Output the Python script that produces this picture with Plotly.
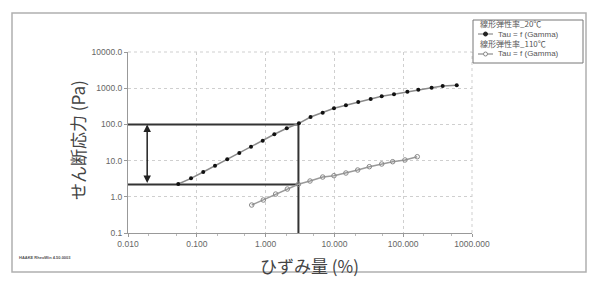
import numpy as np
import plotly.graph_objects as go

# ---- data ----
strain_20 = [0.0538, 0.0824, 0.124, 0.184, 0.277, 0.415, 0.614, 0.908, 1.34, 2.03, 3.05,
             4.50, 6.76, 9.86, 14.7, 22.2, 33.7, 48.7, 73.5, 115, 166, 259, 375, 600]
stress_20 = [2.26, 3.24, 4.84, 7.23, 10.9, 16.2, 24.2, 35.5, 53.3, 78.0, 107,
             160, 210, 279, 337, 416, 503, 598, 678, 800, 909, 1032, 1150, 1202]
strain_110 = [0.628, 0.927, 1.40, 2.07, 2.99, 4.42, 6.76, 9.86, 14.7, 21.8, 32.2, 48.7, 70.3, 106, 160]
stress_110 = [0.593, 0.816, 1.19, 1.64, 2.21, 2.73, 3.52, 3.83, 4.54, 5.50, 6.79, 8.06, 9.33, 10.4, 12.8]

# guide box (linear region marker)
box_x = [0.01, 3.0, None, 0.01, 3.0, None, 3.0, 3.0]
box_y = [100, 100, None, 2.2, 2.2, None, 100, 0.1]
arrow_x = 0.019
arrow_y = [2.2, 100]

x_tickvals = [0.01, 0.1, 1, 10, 100, 1000]
x_ticktext = ["0.010", "0.100", "1.000", "10.000", "100.000", "1000.000"]
y_tickvals = [0.1, 1, 10, 100, 1000, 10000]
y_ticktext = ["0.1", "1.0", "10.0", "100.0", "1000.0", "10000.0"]

legend_titles = ["線形弾性率_20℃", "線形弾性率_110℃"]
legend_names = ["Tau = f (Gamma)", "Tau = f (Gamma)"]

x_title = "ひずみ量 (%)"
y_title = "せん断応力 (Pa)"
footer = "HAAKE RheoWin 4.50.0003"

# ---- layout geometry (pixels) ----
W, H = 606, 288
L, R, T, B = 128, 472, 52, 233


def px(x):
    return (x - L) / (R - L)


def py(y):
    return (B - y) / (B - T)


fig = go.Figure()

fig.add_trace(go.Scatter(
    x=box_x, y=box_y, mode="lines",
    line=dict(color="#333333", width=2), showlegend=False, hoverinfo="skip"))

fig.add_trace(go.Scatter(
    x=strain_20, y=stress_20, mode="lines+markers",
    line=dict(color="#8a8a8a", width=1.5),
    marker=dict(symbol="circle", size=4, color="#111111"),
    showlegend=False))

fig.add_trace(go.Scatter(
    x=strain_110, y=stress_110, mode="lines+markers",
    line=dict(color="#9a9a9a", width=1.5),
    marker=dict(symbol="circle-open", size=4.5, color="#888888", line=dict(width=1)),
    showlegend=False))

tickfont = dict(family="Liberation Sans Narrow, Liberation Sans, Arial", size=8.5, color="#666666")

fig.update_xaxes(type="log", range=[-2, 3], tickvals=x_tickvals, ticktext=x_ticktext,
                 showgrid=True, gridcolor="#cfcfcf", griddash="dot", gridwidth=1,
                 showline=True, linecolor="#999999", linewidth=1,
                 ticks="outside", ticklen=3, tickcolor="#999999",
                 minor=dict(ticks="outside", ticklen=2, tickcolor="#bbbbbb", showgrid=False),
                 tickfont=tickfont, zeroline=False)
fig.update_yaxes(type="log", range=[-1, 4], tickvals=y_tickvals, ticktext=y_ticktext,
                 showgrid=True, gridcolor="#cfcfcf", griddash="dot", gridwidth=1,
                 showline=True, linecolor="#999999", linewidth=1,
                 ticks="outside", ticklen=3, tickcolor="#999999",
                 tickfont=tickfont, zeroline=False)

shapes = []
annotations = []

# outer frame
shapes.append(dict(type="rect", xref="paper", yref="paper",
                   x0=px(12), x1=px(586), y0=py(272), y1=py(13),
                   line=dict(color="#b0b0b0", width=1.5)))
# right/top plot edge grid look
shapes.append(dict(type="line", xref="paper", yref="paper", x0=1, x1=1, y0=0, y1=1,
                   line=dict(color="#cfcfcf", width=1, dash="dot")))
shapes.append(dict(type="line", xref="paper", yref="paper", x0=0, x1=1, y0=1, y1=1,
                   line=dict(color="#cfcfcf", width=1, dash="dot")))

# double-headed arrow
annotations.append(dict(x=np.log10(arrow_x), y=np.log10(arrow_y[1]), ax=np.log10(arrow_x),
                        ay=np.log10(arrow_y[0]), xref="x", yref="y", axref="x", ayref="y",
                        showarrow=True, arrowhead=2, startarrowhead=2, arrowside="end+start",
                        arrowsize=1, arrowwidth=1.5, arrowcolor="#222222", text=""))

# legend (manual)
shapes.append(dict(type="rect", xref="paper", yref="paper",
                   x0=px(473), x1=px(583), y0=py(63), y1=py(20),
                   line=dict(color="#777777", width=1), fillcolor="white"))
legfont = dict(family="Noto Sans CJK JP, Liberation Sans", size=8, color="#555555")
rows = [24, 34, 44, 54]
for i in range(2):
    ty = rows[2 * i]
    sy = rows[2 * i + 1]
    annotations.append(dict(x=px(478), y=py(ty), xref="paper", yref="paper", text=legend_titles[i],
                            showarrow=False, xanchor="left", yanchor="middle", font=legfont))
    annotations.append(dict(x=px(496), y=py(sy), xref="paper", yref="paper", text=legend_names[i],
                            showarrow=False, xanchor="left", yanchor="middle",
                            font=dict(family="Liberation Sans", size=8, color="#555555")))
    shapes.append(dict(type="line", xref="paper", yref="paper", x0=px(478), x1=px(493),
                       y0=py(sy), y1=py(sy), line=dict(color="#777777", width=1)))
    r = 2
    shapes.append(dict(type="circle", xref="paper", yref="paper",
                       x0=px(485.5 - r), x1=px(485.5 + r), y0=py(sy + r), y1=py(sy - r),
                       line=dict(color="#222222" if i == 0 else "#888888", width=1),
                       fillcolor="#222222" if i == 0 else "white"))

# axis titles
annotations.append(dict(x=px(309), y=py(265), xref="paper", yref="paper", text=x_title,
                        showarrow=False, xanchor="center", yanchor="middle",
                        font=dict(family="Noto Sans CJK JP", size=17, color="#444444")))
annotations.append(dict(x=px(77), y=py(140), xref="paper", yref="paper", text=y_title,
                        showarrow=False, xanchor="center", yanchor="middle", textangle=-90,
                        font=dict(family="Noto Sans CJK JP", size=17, color="#444444")))
annotations.append(dict(x=px(17), y=py(257), xref="paper", yref="paper", text="<b>" + footer + "</b>",
                        showarrow=False, xanchor="left", yanchor="middle",
                        font=dict(family="Liberation Sans", size=4, color="#555555")))

fig.update_layout(width=W, height=H, margin=dict(l=L, r=W - R, t=T, b=H - B),
                  paper_bgcolor="white", plot_bgcolor="white",
                  shapes=shapes, annotations=annotations, showlegend=False)

fig.write_html("out.html")
